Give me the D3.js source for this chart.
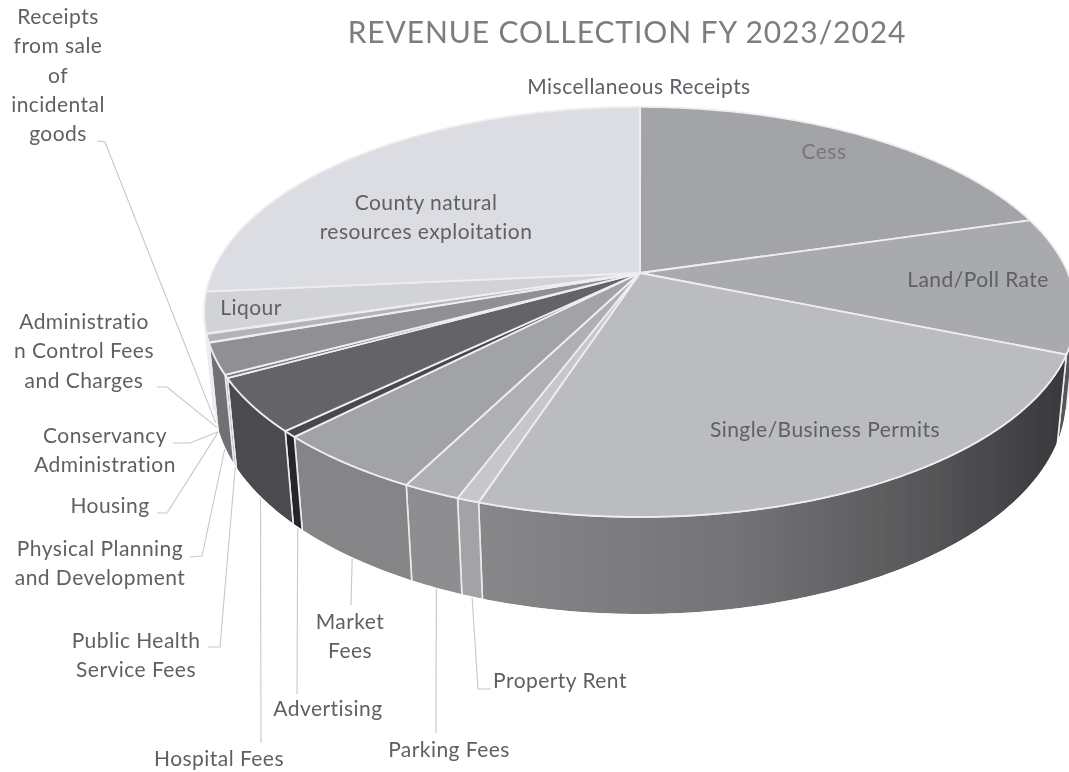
<!DOCTYPE html>
<html>
<head>
<meta charset="utf-8">
<script src="https://cdn.jsdelivr.net/npm/d3@7"></script>
<style>
  html, body { margin: 0; padding: 0; background: #fff; }
  svg { display: block; }
  text { font-family: Lato, "Open Sans", sans-serif; }
</style>
</head>
<body>
<div id="chart"></div>
<script>
const width = 1069;
const height = 772;

// share of the total in % (no numbers are printed on it)
const categories = ["Miscellaneous Receipts", "Cess", "Land/Poll Rate", "Single/Business Permits",
    "Property Rent", "Parking Fees", "Market Fees", "Advertising", "Hospital Fees",
    "Public Health Service Fees", "Physical Planning and Development", "Housing",
    "Conservancy Administration", "Administration Control Fees and Charges",
    "Receipts from sale of incidental goods", "Liqour", "County natural resources exploitation"];
const values = [0.01, 20.5, 10.8, 23.8, 0.7, 1.8, 4.8, 0.5, 4.2, 0.25, 2.4, 0.02, 0.02, 0.62, 0.06, 3.2, 26.52];
const topColors = ["#cfcfd3", "#a3a4a7", "#a9aaad", "#bbbcbf", "#c6c7ca", "#afb0b3", "#a2a3a6", "#4a4a4e",
    "#636367", "#77777b", "#909094", "#b0b0b4", "#b0b0b4", "#b4b4b8", "#bcbcc0", "#d2d3d7", "#dcdde2"];
const wallColors = ["#888", "#7a7a7c", "#55555a", "url(#singleWall)", "#a3a3a6", "#8e8e91", "#858588", "#26262a",
    "#4b4b4f", "#67676b", "#707074", "#707074", "#707074", "#707074", "#707074", "#808084", "#909094"];

// label text lines, and where each label sits with its leader elbow
const labelLines = {
    "Miscellaneous Receipts": ["Miscellaneous Receipts"],
    "Cess": ["Cess"],
    "Land/Poll Rate": ["Land/Poll Rate"],
    "Single/Business Permits": ["Single/Business Permits"],
    "Property Rent": ["Property Rent"],
    "Parking Fees": ["Parking Fees"],
    "Market Fees": ["Market", "Fees"],
    "Advertising": ["Advertising"],
    "Hospital Fees": ["Hospital Fees"],
    "Public Health Service Fees": ["Public Health", "Service Fees"],
    "Physical Planning and Development": ["Physical Planning", "and Development"],
    "Housing": ["Housing"],
    "Conservancy Administration": ["Conservancy", "Administration"],
    "Administration Control Fees and Charges": ["Administratio", "n Control Fees", "and Charges"],
    "Receipts from sale of incidental goods": ["Receipts", "from sale", "of", "incidental", "goods"],
    "Liqour": ["Liqour"],
    "County natural resources exploitation": ["County natural", "resources exploitation"]
};
const labelLayout = {
    "Miscellaneous Receipts": {x: 639, y: 94},
    "Cess": {x: 824, y: 159, fill: "#77777b"},
    "Land/Poll Rate": {x: 978, y: 287},
    "Single/Business Permits": {x: 825, y: 437},
    "Property Rent": {x: 560, y: 688, leader: [[491, 689], [478, 689]]},
    "Parking Fees": {x: 449, y: 757, leader: [[436, 733]]},
    "Market Fees": {x: 350, y: 629, leader: [[351, 605]]},
    "Advertising": {x: 328, y: 716, leader: [[297, 694]]},
    "Hospital Fees": {x: 219, y: 766, leader: [[261, 743]]},
    "Public Health Service Fees": {x: 136, y: 648, leader: [[208, 647], [220, 647]]},
    "Physical Planning and Development": {x: 100, y: 556, leader: [[190, 557], [202, 556]]},
    "Housing": {x: 110, y: 513, leader: [[157, 513], [167, 513]]},
    "Conservancy Administration": {x: 105, y: 443, leader: [[173, 443], [190, 443]]},
    "Administration Control Fees and Charges": {x: 84, y: 329, leader: [[157, 387], [167, 387]]},
    "Receipts from sale of incidental goods": {x: 58, y: 24, leader: [[97, 141], [105, 142]]},
    "Liqour": {x: 251, y: 315},
    "County natural resources exploitation": {x: 426, y: 210}
};
const lineGap = 29.3;

const svg = d3.select("#chart").append("svg")
    .attr("width", width)
    .attr("height", height)
    .attr("viewBox", `0 0 ${width} ${height}`);

const defs = svg.append("defs");
const grad = defs.append("linearGradient")
    .attr("id", "singleWall")
    .attr("gradientUnits", "userSpaceOnUse")
    .attr("x1", 470).attr("x2", 1069).attr("y1", 0).attr("y2", 0);
grad.selectAll("stop")
    .data([[0, "#88888b"], [0.45, "#737376"], [0.75, "#58585b"], [1, "#38383b"]])
    .join("stop")
    .attr("offset", d => d[0])
    .attr("stop-color", d => d[1]);
defs.append("filter").attr("id", "soft")
    .attr("filterUnits", "userSpaceOnUse")
    .attr("x", 0).attr("y", 0)
    .attr("width", width).attr("height", height)
    .append("feGaussianBlur").attr("stdDeviation", 0.55);

// tilted disc: a circle seen in perspective, so the apex sits above the ellipse centre
const cx = 640, cy = 273, rx = 428, ry = 197.6, tilt = 0.19;
const project = a => {
    const w = 1 + tilt * Math.cos(a);
    return [cx + rx * Math.sin(a) / w, cy - ry * Math.cos(a) / w];
};
// floor of the pie: verticals lean toward a vanishing point below, nearer edges look taller
const vx = 640, vy = 4546;
const drop = p => {
    const h = 94 + 0.05 * (p[1] - 437);
    return [vx + (p[0] - vx) * (1 - h / (vy - p[1])), p[1] + h];
};

const pie = d3.pie().sort(null).value(d => d)(values);
const step = Math.PI / 360;
const arcPoints = (a0, a1) => {
    const n = Math.max(1, Math.ceil((a1 - a0) / step));
    return d3.range(n + 1).map(i => project(a0 + (a1 - a0) * i / n));
};

// the wall faces the viewer where the rim turns away from the vanishing point
const faces = a => {
    const p = project(a), q = project(a + 0.001);
    return (q[0] - p[0]) * (vy - p[1]) - (q[1] - p[1]) * (vx - p[0]) < 0;
};
const sweep = d3.range(0, 2 * Math.PI, 0.002).filter(faces);
const wallStart = d3.min(sweep), wallEnd = d3.max(sweep);

const line = d3.line();
const chart = svg.append("g").attr("filter", "url(#soft)");

// walls, outer ends first so nearer ones paint on top
const walls = pie
    .map((d, i) => ({a0: Math.max(d.startAngle, wallStart), a1: Math.min(d.endAngle, wallEnd), i}))
    .filter(d => d.a1 > d.a0);
chart.append("g").selectAll("path")
    .data(walls)
    .join("path")
    .attr("d", d => {
        const rim = arcPoints(d.a0, d.a1);
        return line(rim.concat(rim.map(drop).reverse())) + "Z";
    })
    .attr("fill", d => wallColors[d.i])
    .attr("stroke", "#ececee")
    .attr("stroke-width", d => (d.a1 - d.a0 > 0.002 ? 1.6 : 0))
    .attr("stroke-linejoin", "round");

// wall outline must not show a light edge along the floor
chart.append("path")
    .attr("d", line(arcPoints(wallStart, wallEnd).map(drop)))
    .attr("fill", "none")
    .attr("stroke", "#fff")
    .attr("stroke-width", 2);

// top face
chart.append("g").selectAll("path")
    .data(pie)
    .join("path")
    .attr("d", d => line([[cx, cy]].concat(arcPoints(d.startAngle, d.endAngle))) + "Z")
    .attr("fill", (d, i) => topColors[i])
    .attr("stroke", "#eeeef0")
    .attr("stroke-width", d => (d.endAngle - d.startAngle > 0.005 ? 1.8 : 0.6))
    .attr("stroke-linejoin", "round");

// leaders run from the floor of the wall under each slice's mid angle
const leaders = pie
    .map((d, i) => ({d, layout: labelLayout[categories[i]]}))
    .filter(e => e.layout.leader);
chart.append("g").selectAll("path")
    .data(leaders)
    .join("path")
    .attr("d", e => line(e.layout.leader.concat([drop(project((e.d.startAngle + e.d.endAngle) / 2))])))
    .attr("fill", "none")
    .attr("stroke", "#c6c7cb")
    .attr("stroke-width", 1.1);

// labels
const labels = chart.append("g")
    .attr("text-anchor", "middle")
    .attr("font-size", 21)
    .attr("letter-spacing", 0.45)
    .attr("fill", "#5f6065");
labels.selectAll("text")
    .data(categories)
    .join("text")
    .attr("x", d => labelLayout[d].x)
    .attr("y", d => labelLayout[d].y)
    .attr("fill", d => labelLayout[d].fill || null)
    .selectAll("tspan")
    .data(d => labelLines[d].map((t, j) => ({t, j, x: labelLayout[d].x})))
    .join("tspan")
    .attr("x", d => d.x)
    .attr("dy", d => (d.j ? lineGap : 0))
    .text(d => d.t);

chart.append("text")
    .attr("x", 627)
    .attr("y", 43)
    .attr("text-anchor", "middle")
    .attr("font-size", 30)
    .attr("letter-spacing", 0.9)
    .attr("fill", "#7b7c81")
    .text("REVENUE COLLECTION FY 2023/2024");
</script>
</body>
</html>
